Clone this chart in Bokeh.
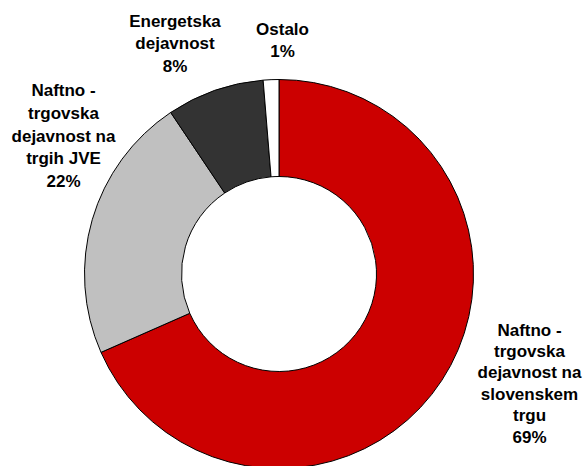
import math
from bokeh.plotting import figure
from bokeh.models import ColumnDataSource, Range1d
from bokeh.core.properties import value
from bokeh.embed import file_html
from bokeh.resources import INLINE

# ---- data ----
categories = [
    "Naftno - trgovska dejavnost na slovenskem trgu",
    "Naftno - trgovska dejavnost na trgih JVE",
    "Energetska dejavnost",
    "Ostalo",
]
shares = [68.4, 22.2, 8.1, 1.3]
label_lines = [
    ["Naftno -", "trgovska", "dejavnost na", "slovenskem", "trgu", "69%"],
    ["Naftno -", "trgovska", "dejavnost na", "trgih JVE", "22%"],
    ["Energetska", "dejavnost", "8%"],
    ["Ostalo", "1%"],
]
colors = ["#CC0000", "#C0C0C0", "#333333", "#FFFFFF"]

# ---- layout (pixels, top-left origin) ----
W, H = 583, 466
cx, cy = 278.5, 273.5
r_in, r_out = 97.5, 194.5
label_anchor = [(529, 329.5), (63, 90), (174.5, 20.5), (282, 29)]
label_step = [21.4, 22.8, 22.5, 21.5]

p = figure(width=W, height=H, output_backend="svg", toolbar_location=None,
           x_range=Range1d(0, W), y_range=Range1d(0, H),
           x_axis_location=None, y_axis_location=None, min_border=0)
p.grid.visible = False
p.outline_line_color = None
p.background_fill_color = "white"

total = sum(shares)
starts, ends = [], []
acc = 0.0
for s in shares:
    a0 = math.pi / 2 - 2 * math.pi * acc / total
    acc += s
    a1 = math.pi / 2 - 2 * math.pi * acc / total
    starts.append(a0)
    ends.append(a1)

src = ColumnDataSource(dict(cat=categories, start=starts, end=ends, color=colors))
p.annular_wedge(x=cx, y=H - cy, inner_radius=r_in, outer_radius=r_out,
                start_angle="start", end_angle="end", direction="clock",
                fill_color="color", line_color="black", line_width=1, source=src)

tx, ty, tt = [], [], []
for (ax, ay), step, lines in zip(label_anchor, label_step, label_lines):
    for i, ln in enumerate(lines):
        tx.append(ax)
        ty.append(H - (ay + i * step))
        tt.append(ln)
p.text(x=tx, y=ty, text=tt, text_align="center", text_baseline="middle",
       text_font=value("Liberation Sans"), text_font_style="bold",
       text_font_size="17px", text_color="black")

open("out.html", "w").write(file_html(p, INLINE))
